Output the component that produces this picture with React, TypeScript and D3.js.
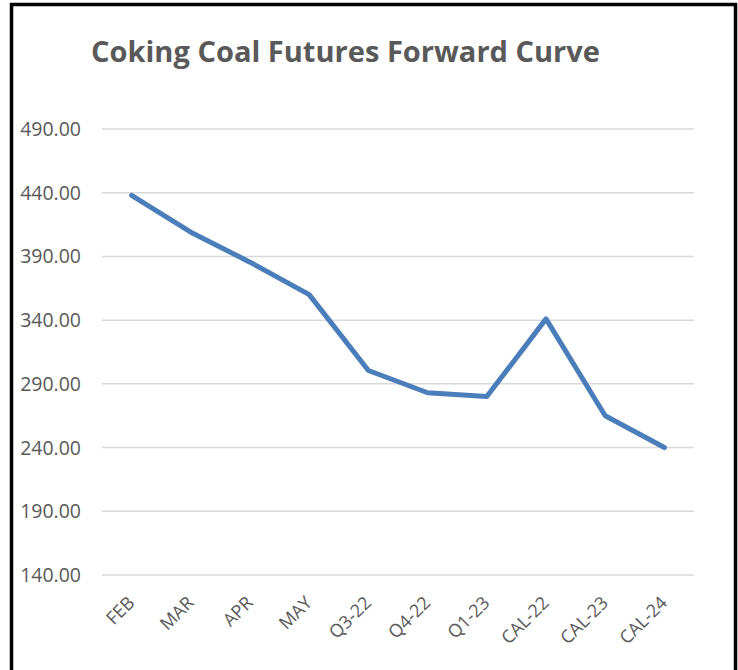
import { useRef, useEffect } from 'react';
import * as d3 from 'd3';

const categories = ['FEB', 'MAR', 'APR', 'MAY', 'Q3-22', 'Q4-22', 'Q1-23', 'CAL-22', 'CAL-23', 'CAL-24'];
const prices = [438, 409, 385.5, 360, 300.5, 283, 280, 341, 265, 240];
const yTicks = [140, 190, 240, 290, 340, 390, 440, 490];

export default function App() {
  const svgRef = useRef<SVGSVGElement>(null);

  useEffect(() => {
    if (!svgRef.current) return;
    const svg = d3.select(svgRef.current);
    svg.selectAll('*').remove();
    const W = 738, H = 670;
    const left = 102, right = 694, top = 129, bottom = 575;
    const font = '"Open Sans", sans-serif';

    svg.append('rect').attr('width', W).attr('height', H).attr('fill', '#fff');

    const x = d3.scaleBand<string>().domain(categories).range([left, right]);
    const y = d3.scaleLinear().domain([140, 490]).range([bottom, top]);

    // gridlines
    svg.append('g').selectAll('line').data(yTicks).enter().append('line')
      .attr('x1', left).attr('x2', right)
      .attr('y1', d => y(d)).attr('y2', d => y(d))
      .attr('stroke', '#d9d9d9').attr('stroke-width', 1.5);

    // y labels
    svg.append('g').selectAll('text').data(yTicks).enter().append('text')
      .attr('x', 81).attr('y', d => y(d) + 7)
      .attr('text-anchor', 'end')
      .attr('font-family', font).attr('font-size', 19.5).attr('fill', '#595959')
      .text(d => d.toFixed(2));

    // x labels
    svg.append('g').selectAll('text').data(categories).enter().append('text')
      .attr('transform', d => `translate(${x(d)! + x.bandwidth() / 2 + 4},${bottom + 29}) rotate(-45)`)
      .attr('text-anchor', 'end')
      .attr('font-family', font).attr('font-size', 18).attr('fill', '#595959')
      .text(d => d);

    const line = d3.line<number>()
      .x((_, i) => x(categories[i])! + x.bandwidth() / 2)
      .y(d => y(d));
    svg.append('path').datum(prices)
      .attr('d', line)
      .attr('fill', 'none').attr('stroke', '#4a7ebb').attr('stroke-width', 5)
      .attr('stroke-linejoin', 'round').attr('stroke-linecap', 'round');

    svg.append('text').attr('x', 91).attr('y', 62)
      .attr('font-family', font).attr('font-weight', 'bold').attr('font-size', 28).attr('fill', '#595959')
      .attr('textLength', 509).attr('lengthAdjust', 'spacingAndGlyphs')
      .text('Coking Coal Futures Forward Curve');

    // outer border
    svg.append('path').attr('d', `M11.5,${H + 5} V4.5 H735.5 V${H + 5}`)
      .attr('fill', 'none').attr('stroke', '#000').attr('stroke-width', 3.5);
  }, []);

  return (
    <div style={{ position: 'absolute', left: 0, top: 0 }}>
      <svg ref={svgRef} width={738} height={670} style={{ display: 'block' }} />
    </div>
  );
}
